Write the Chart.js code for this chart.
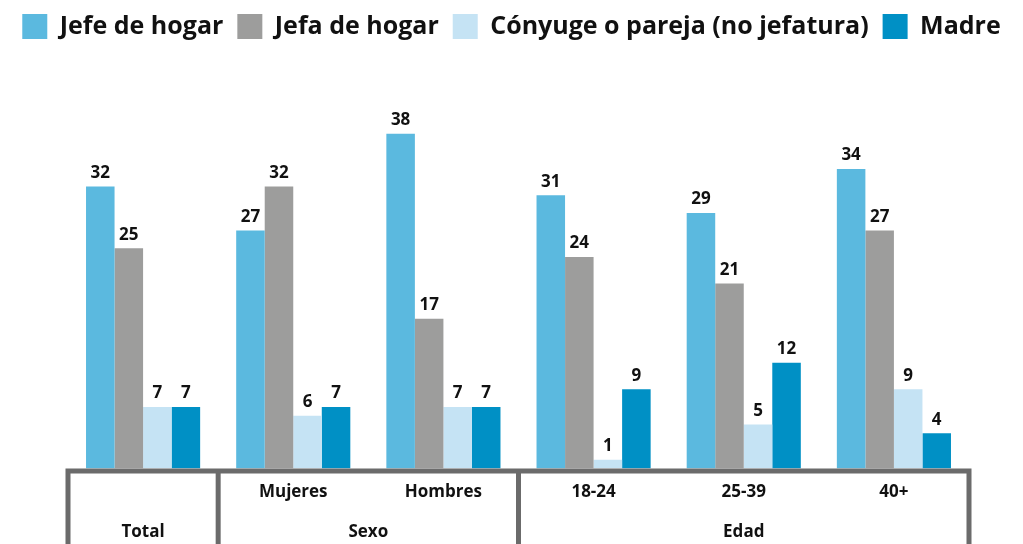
<!DOCTYPE html>
<html>
<head>
<meta charset="utf-8">
<script src="https://cdn.jsdelivr.net/npm/chart.js@4"></script>
<style>
  html, body { margin: 0; padding: 0; background: #fff; }
  #wrap { width: 1023px; height: 544px; position: relative; }
</style>
</head>
<body>
<div id="wrap"><canvas id="chart" width="1023" height="544"></canvas></div>
<script>
// ── Data ────────────────────────────────────────────────────
const categories = ['Total', 'Mujeres', 'Hombres', '18-24', '25-39', '40+'];
const groups = [
  { label: 'Total', from: 0, to: 0 },
  { label: 'Sexo', from: 1, to: 2 },
  { label: 'Edad', from: 3, to: 5 },
];
const seriesNames = ['Jefe de hogar', 'Jefa de hogar', 'Cónyuge o pareja (no jefatura)', 'Madre'];
const jefeHogar = [32, 27, 38, 31, 29, 34];
const jefaHogar = [25, 32, 17, 24, 21, 27];
const conyuge   = [7, 6, 7, 1, 5, 9];
const madre     = [7, 7, 7, 9, 12, 4];
const colors = ['#5bb9df', '#9d9d9c', '#c5e3f4', '#0090c5'];

const FONT = '"Open Sans", "DejaVu Sans", sans-serif';
const BOX = '#6b6b6b';

// ── Plugins ─────────────────────────────────────────────────

// value labels above each bar
const valueLabels = {
  id: 'valueLabels',
  afterDatasetsDraw(chart) {
    const ctx = chart.ctx;
    ctx.save();
    ctx.font = `bold 17px ${FONT}`;
    ctx.fillStyle = '#111';
    ctx.textAlign = 'center';
    ctx.textBaseline = 'bottom';
    chart.data.datasets.forEach((ds, i) => {
      chart.getDatasetMeta(i).data.forEach((bar, j) => {
        ctx.fillText(ds.data[j], bar.x, bar.y - 5);
      });
    });
    ctx.restore();
  }
};

// table-like box below the axis with group labels
const groupBox = {
  id: 'groupBox',
  afterDraw(chart) {
    const ctx = chart.ctx;
    const x = chart.scales.x;
    const area = chart.chartArea;
    const half = (x.getPixelForValue(1) - x.getPixelForValue(0)) / 2;
    const top = area.bottom + 2.5;
    const bottom = chart.height + 10;
    ctx.save();
    ctx.strokeStyle = BOX;
    ctx.lineWidth = 5;
    ctx.beginPath();
    ctx.moveTo(area.left, bottom);
    ctx.lineTo(area.left, top);
    ctx.lineTo(area.right, top);
    ctx.lineTo(area.right, bottom);
    groups.slice(1).forEach(g => {
      const gx = x.getPixelForValue(g.from) - half;
      ctx.moveTo(gx, top);
      ctx.lineTo(gx, bottom);
    });
    ctx.stroke();

    ctx.font = `bold 17px ${FONT}`;
    ctx.fillStyle = '#111';
    ctx.textAlign = 'center';
    ctx.textBaseline = 'middle';
    groups.forEach(g => {
      const cx = (x.getPixelForValue(g.from) + x.getPixelForValue(g.to)) / 2;
      ctx.fillText(g.label, cx, 532);
    });
    ctx.restore();
  }
};

// ── Chart ───────────────────────────────────────────────────

const seriesData = [jefeHogar, jefaHogar, conyuge, madre];

new Chart(document.getElementById('chart'), {
  type: 'bar',
  data: {
    labels: categories,
    datasets: seriesNames.map((name, i) => ({
      label: name,
      data: seriesData[i],
      backgroundColor: colors[i],
      categoryPercentage: 0.76,
      barPercentage: 1.0,
    })),
  },
  options: {
    responsive: false,
    animation: false,
    layout: { padding: { left: 8, right: 8, top: 0, bottom: 29 } },
    plugins: {
      legend: {
        position: 'top',
        labels: {
          boxWidth: 25,
          boxHeight: 25,
          padding: 14,
          color: '#111',
          font: { family: FONT, size: 25, weight: 'bold' },
        },
      },
      tooltip: { enabled: false },
    },
    scales: {
      x: {
        grid: { display: false, drawTicks: false },
        border: { display: false },
        ticks: {
          padding: 13,
          color: '#111',
          font: { family: FONT, size: 17, weight: 'bold' },
          callback: (v, i) => (i === 0 ? '' : categories[i]),
        },
      },
      y: {
        min: 0,
        max: 47.6,
        grid: { display: false },
        border: { display: false },
        ticks: { display: false },
        afterFit: (scale) => { scale.width = 60; },
      },
      yRight: {
        position: 'right',
        grid: { display: false },
        border: { display: false },
        ticks: { display: false },
        afterFit: (scale) => { scale.width = 46; },
      },
    },
  },
  plugins: [valueLabels, groupBox],
});
</script>
</body>
</html>
